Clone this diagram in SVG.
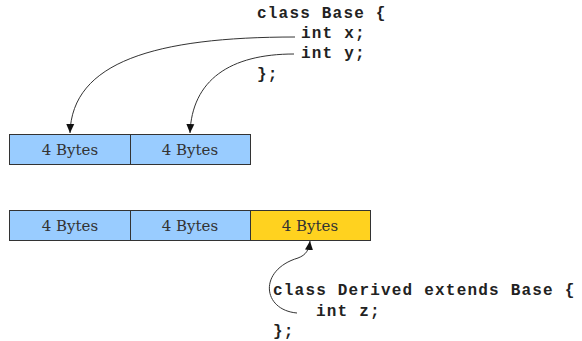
<svg xmlns="http://www.w3.org/2000/svg" width="582" height="341" viewBox="0 0 582 341">
<defs>
<style>
.box{stroke:#333;stroke-width:1}
.blue{fill:#99ccff}
.yellow{fill:#ffd21f}
.lbl{font-family:"DejaVu Serif",serif;font-size:15px;fill:#333;text-anchor:middle}
.code{font-family:"Liberation Mono","Courier New",monospace;font-weight:bold;font-size:16px;letter-spacing:1.2px;fill:#222}
.conn{fill:none;stroke:#333;stroke-width:1}
</style>
<marker id="arr" markerWidth="10" markerHeight="10" refX="9" refY="5" orient="auto" markerUnits="userSpaceOnUse">
<path d="M0,1 L9,5 L0,9 z" fill="#111"/>
</marker>
</defs>
<g id="base-x"><rect class="box blue" x="9.5" y="134.5" width="121" height="30"/><text class="lbl" x="70" y="155">4 Bytes</text></g>
<g id="base-y"><rect class="box blue" x="130.5" y="134.5" width="120" height="30"/><text class="lbl" x="190" y="155">4 Bytes</text></g>
<g id="derived-x"><rect class="box blue" x="9.5" y="210.5" width="121" height="30"/><text class="lbl" x="70" y="231">4 Bytes</text></g>
<g id="derived-y"><rect class="box blue" x="130.5" y="210.5" width="120" height="30"/><text class="lbl" x="190" y="231">4 Bytes</text></g>
<g id="derived-z"><rect class="box yellow" x="250.5" y="210.5" width="120" height="30"/><text class="lbl" x="310" y="231">4 Bytes</text></g>
<g id="class-base">
<text class="code" x="257" y="18">class Base {</text>
<text class="code" x="301" y="38">int x;</text>
<text class="code" x="301" y="58">int y;</text>
<text class="code" x="257" y="79">};</text>
</g>
<g id="class-derived">
<text class="code" x="273" y="295">class Derived extends Base {</text>
<text class="code" x="316" y="316">int z;</text>
<text class="code" x="273" y="336">};</text>
</g>
<g id="connectors">
<path class="conn" marker-end="url(#arr)" d="M295,37 C155,37 72,62 70,133"/>
<path class="conn" marker-end="url(#arr)" d="M294,54 C230,54 192,80 190,133"/>
<path class="conn" marker-end="url(#arr)" d="M297,313 C262,310 258,270 298,258 C306,255 309,250 310,241"/>
</g>
</svg>
